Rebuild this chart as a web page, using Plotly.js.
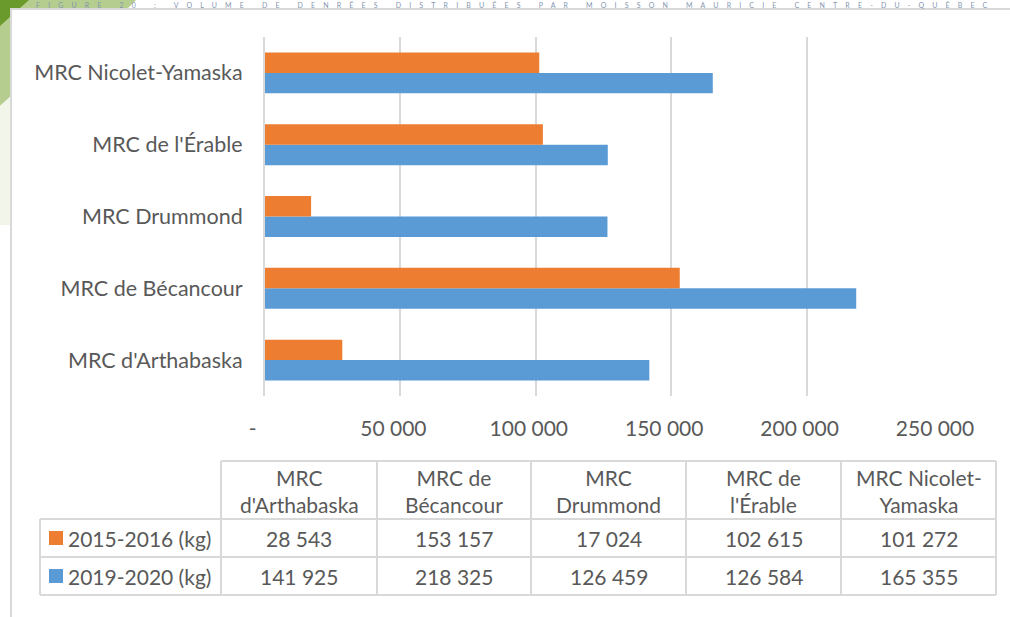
<!DOCTYPE html>
<html>
<head>
<meta charset="utf-8">
<script src="https://cdn.plot.ly/plotly-3.0.1.min.js"></script>
<style>html,body{margin:0;padding:0;background:#fff;}#chart{width:1010px;height:617px;}</style>
</head>
<body>
<div id="chart"></div>
<script>
// ---- data ----
const categories = ["MRC d'Arthabaska", "MRC de Bécancour", "MRC Drummond", "MRC de l'Érable", "MRC Nicolet-Yamaska"];
const tableHeaders = ["MRC<br>d'Arthabaska", "MRC de<br>Bécancour", "MRC<br>Drummond", "MRC de<br>l'Érable", "MRC Nicolet-<br>Yamaska"];
const values2015 = [28543, 153157, 17024, 102615, 101272];
const values2019 = [141925, 218325, 126459, 126584, 165355];
const seriesNames = ["2015-2016 (kg)", "2019-2020 (kg)"];
const xTickVals = [0, 50000, 100000, 150000, 200000, 250000];
const xTickText = ["-\u00a0\u00a0", "50 000", "100 000", "150 000", "200 000", "250 000"];
const titleText = "FIGURE 20 : VOLUME DE DENRÉES DISTRIBUÉES PAR MOISSON MAURICIE CENTRE-DU-QUÉBEC";

// ---- style ----
const W = 1010, H = 617;
const FONT = "Lato, 'Open Sans', sans-serif";
const TXT = "#595959";
const GRID = "#d9d9d9";
const ORANGE = "#ED7D31";
const BLUE = "#5B9BD5";
const FS = 21;
const X = p => p / W;
const Y = p => 1 - p / H;
const fmt = n => String(n).replace(/\B(?=(\d{3})+(?!\d))/g, " ");

const traces = [
  {type: "bar", orientation: "h", name: seriesNames[1], y: categories, x: values2019,
   marker: {color: BLUE, line: {width: 0}}, hoverinfo: "x+y"},
  {type: "bar", orientation: "h", name: seriesNames[0], y: categories, x: values2015,
   marker: {color: ORANGE, line: {width: 0}}, hoverinfo: "x+y"}
];

const shapes = [];
const annotations = [];

// decorative green corner
shapes.push({type: "path", xref: "paper", yref: "paper", layer: "below",
  path: `M ${X(0)} ${Y(0)} L ${X(136)} ${Y(0)} L ${X(127)} ${Y(9)} L ${X(11)} ${Y(9)} L ${X(11)} ${Y(96)} L ${X(0)} ${Y(106)} Z`,
  fillcolor: "#B5CD8F", line: {width: 0}});
shapes.push({type: "path", xref: "paper", yref: "paper", layer: "below",
  path: `M ${X(0)} ${Y(106)} L ${X(11)} ${Y(96)} L ${X(11)} ${Y(225)} L ${X(0)} ${Y(225)} Z`,
  fillcolor: "#F1F5EA", line: {width: 0}});
shapes.push({type: "path", xref: "paper", yref: "paper", layer: "below",
  path: `M ${X(0)} ${Y(0)} L ${X(29)} ${Y(0)} L ${X(0)} ${Y(26)} Z`,
  fillcolor: "#6A9A2C", line: {width: 0}});
// white chart area box
shapes.push({type: "rect", xref: "paper", yref: "paper", layer: "below",
  x0: X(11), y0: Y(9), x1: X(1030), y1: Y(640), fillcolor: "#ffffff", line: {color: GRID, width: 2}});

// data table lines
const colX = [221, 377, 531, 686, 841, 996];
const rowY = [461, 519, 557, 595];
const tline = (x0, y0, x1, y1) => shapes.push({type: "line", xref: "paper", yref: "paper",
  x0: X(x0), y0: Y(y0), x1: X(x1), y1: Y(y1), line: {color: GRID, width: 2}});
tline(colX[0], rowY[0], colX[5], rowY[0]);
for (let r = 1; r < rowY.length; r++) tline(40, rowY[r], colX[5], rowY[r]);
tline(40, rowY[1], 40, rowY[3]);
colX.forEach(cx => tline(cx, rowY[0], cx, rowY[3]));

// header cells
tableHeaders.forEach((h, i) => {
  annotations.push({xref: "paper", yref: "paper", x: X((colX[i] + colX[i + 1]) / 2), y: Y((rowY[0] + rowY[1]) / 2 + 1),
    text: h, showarrow: false, xanchor: "center", yanchor: "middle", align: "center",
    font: {family: FONT, size: FS, color: TXT}});
});
// value cells
[values2015, values2019].forEach((vals, r) => {
  const cy = (rowY[r + 1] + rowY[r + 2]) / 2;
  vals.forEach((v, i) => {
    annotations.push({xref: "paper", yref: "paper", x: X((colX[i] + colX[i + 1]) / 2), y: Y(cy),
      text: fmt(v), showarrow: false, xanchor: "center", yanchor: "middle",
      font: {family: FONT, size: FS, color: TXT}});
  });
  // legend key
  shapes.push({type: "rect", xref: "paper", yref: "paper", x0: X(49), x1: X(63), y0: Y(cy - 7), y1: Y(cy + 7),
    fillcolor: r === 0 ? ORANGE : BLUE, line: {width: 0}});
  annotations.push({xref: "paper", yref: "paper", x: X(66), y: Y(cy), text: seriesNames[r], showarrow: false,
    xanchor: "left", yanchor: "middle", font: {family: FONT, size: FS, color: TXT}});
});

// title strip at the very top (the reference shows it cut off; kept small so it fits)
annotations.push({xref: "paper", yref: "paper", x: X(36), y: Y(0), text: titleText, showarrow: false,
  xanchor: "left", yanchor: "top", borderpad: 0, font: {family: FONT, size: 7, color: "#8496B0"}});

const layout = {
  width: W, height: H,
  margin: {l: 0, r: 0, t: 0, b: 0},
  paper_bgcolor: "#ffffff", plot_bgcolor: "rgba(0,0,0,0)",
  showlegend: false,
  barmode: "group", bargap: 0.43, bargroupgap: 0,
  font: {family: FONT, size: FS, color: TXT},
  xaxis: {domain: [X(265), X(942)], range: [0, 250000], tickvals: xTickVals, ticktext: xTickText,
    showgrid: true, gridcolor: GRID, gridwidth: 2, zeroline: false, showline: false,
    ticks: "", ticklabelstandoff: 18, ticklabelshift: -7, fixedrange: true,
    tickfont: {family: FONT, size: FS, color: TXT}},
  yaxis: {domain: [Y(396), Y(37)], type: "category", categoryorder: "array", categoryarray: categories,
    showgrid: false, zeroline: false, showline: true, linecolor: GRID, linewidth: 2,
    ticks: "", ticklabelstandoff: 16,
    fixedrange: true, tickfont: {family: FONT, size: FS + 0.5, color: TXT}},
  shapes: shapes,
  annotations: annotations
};

Plotly.newPlot("chart", traces, layout, {displayModeBar: false, staticPlot: true}).then(() => {
  // spread the tiny title across the top strip like the reference, keeping it inside the page
  const anns = document.querySelectorAll("#chart .annotation-text");
  const t = anns[anns.length - 1];
  if (!t) return;
  const n = titleText.length;
  const w0 = t.getBoundingClientRect().width;
  const target = 960;
  t.setAttribute("letter-spacing", Math.max(0, (target - w0) / n).toFixed(2));
  const r = t.getBoundingClientRect();
  const shift = 36 - r.left;
  const prev = t.getAttribute("transform") || "";
  t.setAttribute("transform", prev + " translate(" + shift.toFixed(1) + ",0)");
});
</script>
</body>
</html>
